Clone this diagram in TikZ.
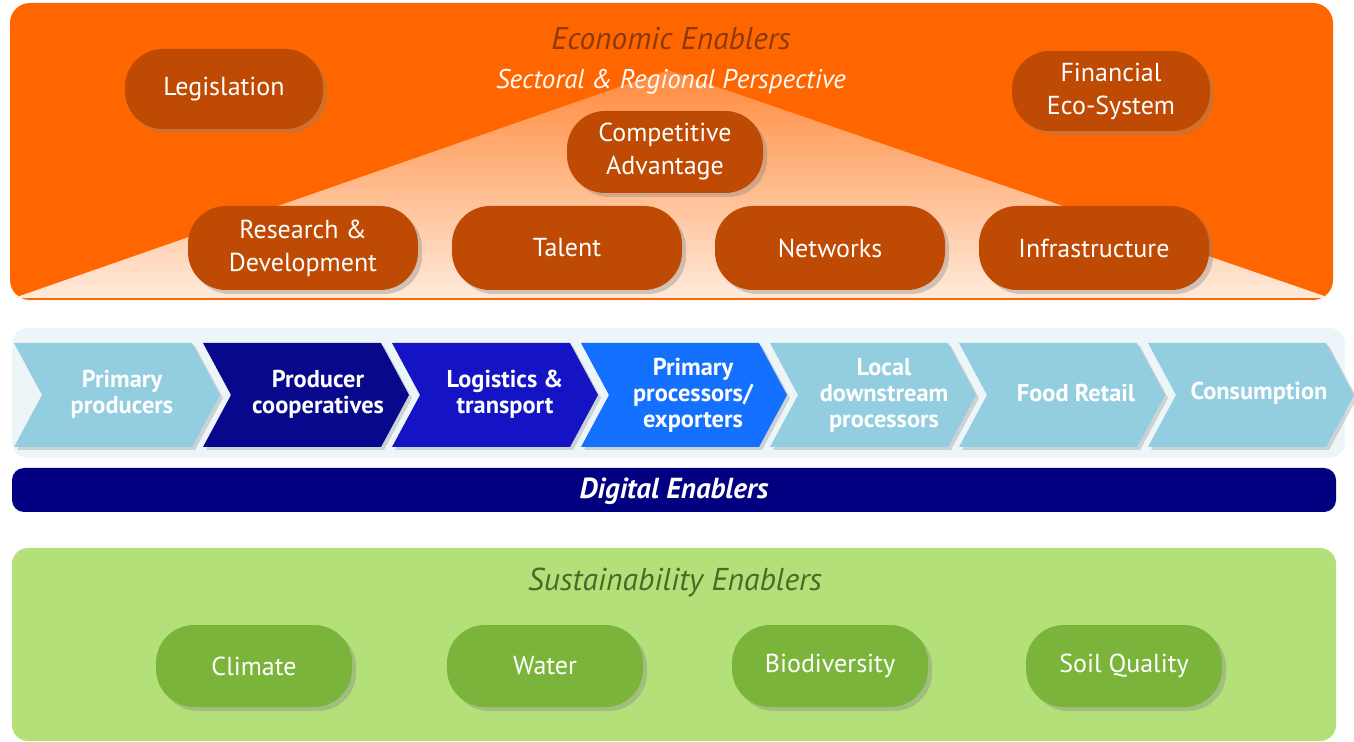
\documentclass[tikz,border=0pt]{standalone}
\usepackage{fontspec}
\setmainfont{PT Sans}
\usetikzlibrary{shadows}

\definecolor{mOrange}{HTML}{FF6600}
\definecolor{mRust}{HTML}{BE4A04}
\definecolor{mBrown}{HTML}{8C3A0C}
\definecolor{mPeachTop}{HTML}{FF8A3C}
\definecolor{mPeachMid}{HTML}{FDB888}
\definecolor{mPeach}{HTML}{FFEADB}
\definecolor{mMist}{HTML}{EEF5F9}
\definecolor{mSkyBlue}{HTML}{92CDE0}
\definecolor{mNavy}{HTML}{08088C}
\definecolor{mRoyalBlue}{HTML}{1414C4}
\definecolor{mBrightBlue}{HTML}{1470FF}
\definecolor{mDarkNavy}{HTML}{000080}
\definecolor{mPaleGreen}{HTML}{B4E07A}
\definecolor{mLeafGreen}{HTML}{7AB43A}
\definecolor{mMossGreen}{HTML}{4A6A28}

\begin{document}
\begin{tikzpicture}[x=0.5pt, y=-0.5pt,
  pill/.style={rectangle, rounded corners=19pt, text=white, align=center,
    font=\fontsize{13}{16.5}\selectfont, inner sep=2pt,
    drop shadow={shadow xshift=2pt, shadow yshift=-2pt, opacity=0.35}},
  chev/.style={drop shadow={shadow xshift=1.5pt, shadow yshift=-1.5pt, opacity=0.3}},
  chevtext/.style={text=white, align=center, font=\bfseries\fontsize{12.2}{13}\selectfont}]
\useasboundingbox (0,0) rectangle (1354,742);

\fill[mOrange, rounded corners=10pt] (10,3) rectangle (1333,300);
\shade[top color=mPeachTop, middle color=mPeachMid, bottom color=mPeach]
  (14,298) -- (668,70) -- (1330,298) -- cycle;
\node[text=mBrown, font=\itshape\fontsize{15.7}{18}\selectfont] (econ) at (671,39) {Economic Enablers};
\node[text=white!92!mPeach, font=\itshape\fontsize{13.5}{15}\selectfont] (sect) at (671,82) {Sectoral \& Regional Perspective};

\node[pill, fill=mRust, minimum width=99pt, minimum height=40pt] (legis) at (224,89) {Legislation};
\node[pill, fill=mRust, minimum width=99pt, minimum height=40pt] (fin) at (1111,91) {Financial\\Eco-System};
\node[pill, fill=mRust, minimum width=98pt, minimum height=41pt] (comp) at (665,152) {Competitive\\Advantage};
\node[pill, fill=mRust, minimum width=115pt, minimum height=42pt] (rnd) at (303,248) {Research \&\\Development};
\node[pill, fill=mRust, minimum width=115pt, minimum height=42pt] (talent) at (567,248) {Talent};
\node[pill, fill=mRust, minimum width=115pt, minimum height=42pt] (netw) at (830,248) {Networks};
\node[pill, fill=mRust, minimum width=115pt, minimum height=42pt] (infra) at (1094,248) {Infrastructure};

\fill[mMist, rounded corners=8pt] (12,328) rectangle (1345,458);

\fill[chev, mSkyBlue] (14,343) -- ++(178,0) -- ++(28,52) -- ++(-28,52) -- ++(-178,0) -- ++(28,-52) -- cycle;
\node[chevtext] (prim) at (122,394) {Primary\\producers};

\fill[chev, mNavy] (203,343) -- ++(178,0) -- ++(28,52) -- ++(-28,52) -- ++(-178,0) -- ++(28,-52) -- cycle;
\node[chevtext] (coop) at (318,394) {Producer\\cooperatives};

\fill[chev, mRoyalBlue] (392,343) -- ++(178,0) -- ++(28,52) -- ++(-28,52) -- ++(-178,0) -- ++(28,-52) -- cycle;
\node[chevtext] (logi) at (505,394) {Logistics \&\\transport};

\fill[chev, mBrightBlue] (581,343) -- ++(178,0) -- ++(28,52) -- ++(-28,52) -- ++(-178,0) -- ++(28,-52) -- cycle;
\node[chevtext] (proc) at (693,395) {Primary\\processors/\\exporters};

\fill[chev, mSkyBlue] (770,343) -- ++(178,0) -- ++(28,52) -- ++(-28,52) -- ++(-178,0) -- ++(28,-52) -- cycle;
\node[chevtext] (down) at (884,395) {Local\\downstream\\processors};

\fill[chev, mSkyBlue] (959,343) -- ++(178,0) -- ++(28,52) -- ++(-28,52) -- ++(-178,0) -- ++(28,-52) -- cycle;
\node[chevtext] (retail) at (1076,393) {Food Retail};

\fill[chev, mSkyBlue] (1148,343) -- ++(178,0) -- ++(28,52) -- ++(-28,52) -- ++(-178,0) -- ++(28,-52) -- cycle;
\node[chevtext] (cons) at (1259,393) {Consumption};

\fill[mDarkNavy, rounded corners=6pt] (12,468) rectangle (1336,512);
\node[text=white, font=\bfseries\itshape\fontsize{14.5}{16}\selectfont] (digi) at (674,491) {Digital Enablers};

\fill[mPaleGreen, rounded corners=8pt] (12,548) rectangle (1336,741);
\node[text=mMossGreen, font=\itshape\fontsize{15.8}{18}\selectfont] (sust) at (675,582) {Sustainability Enablers};

\node[pill, fill=mLeafGreen, minimum width=98pt, minimum height=41pt] (clim) at (254,666) {Climate};
\node[pill, fill=mLeafGreen, minimum width=98pt, minimum height=41pt] (water) at (545,666) {Water};
\node[pill, fill=mLeafGreen, minimum width=98pt, minimum height=41pt] (bio) at (830,666) {Biodiversity};
\node[pill, fill=mLeafGreen, minimum width=98pt, minimum height=41pt] (soil) at (1124,666) {Soil Quality};

\end{tikzpicture}
\end{document}
